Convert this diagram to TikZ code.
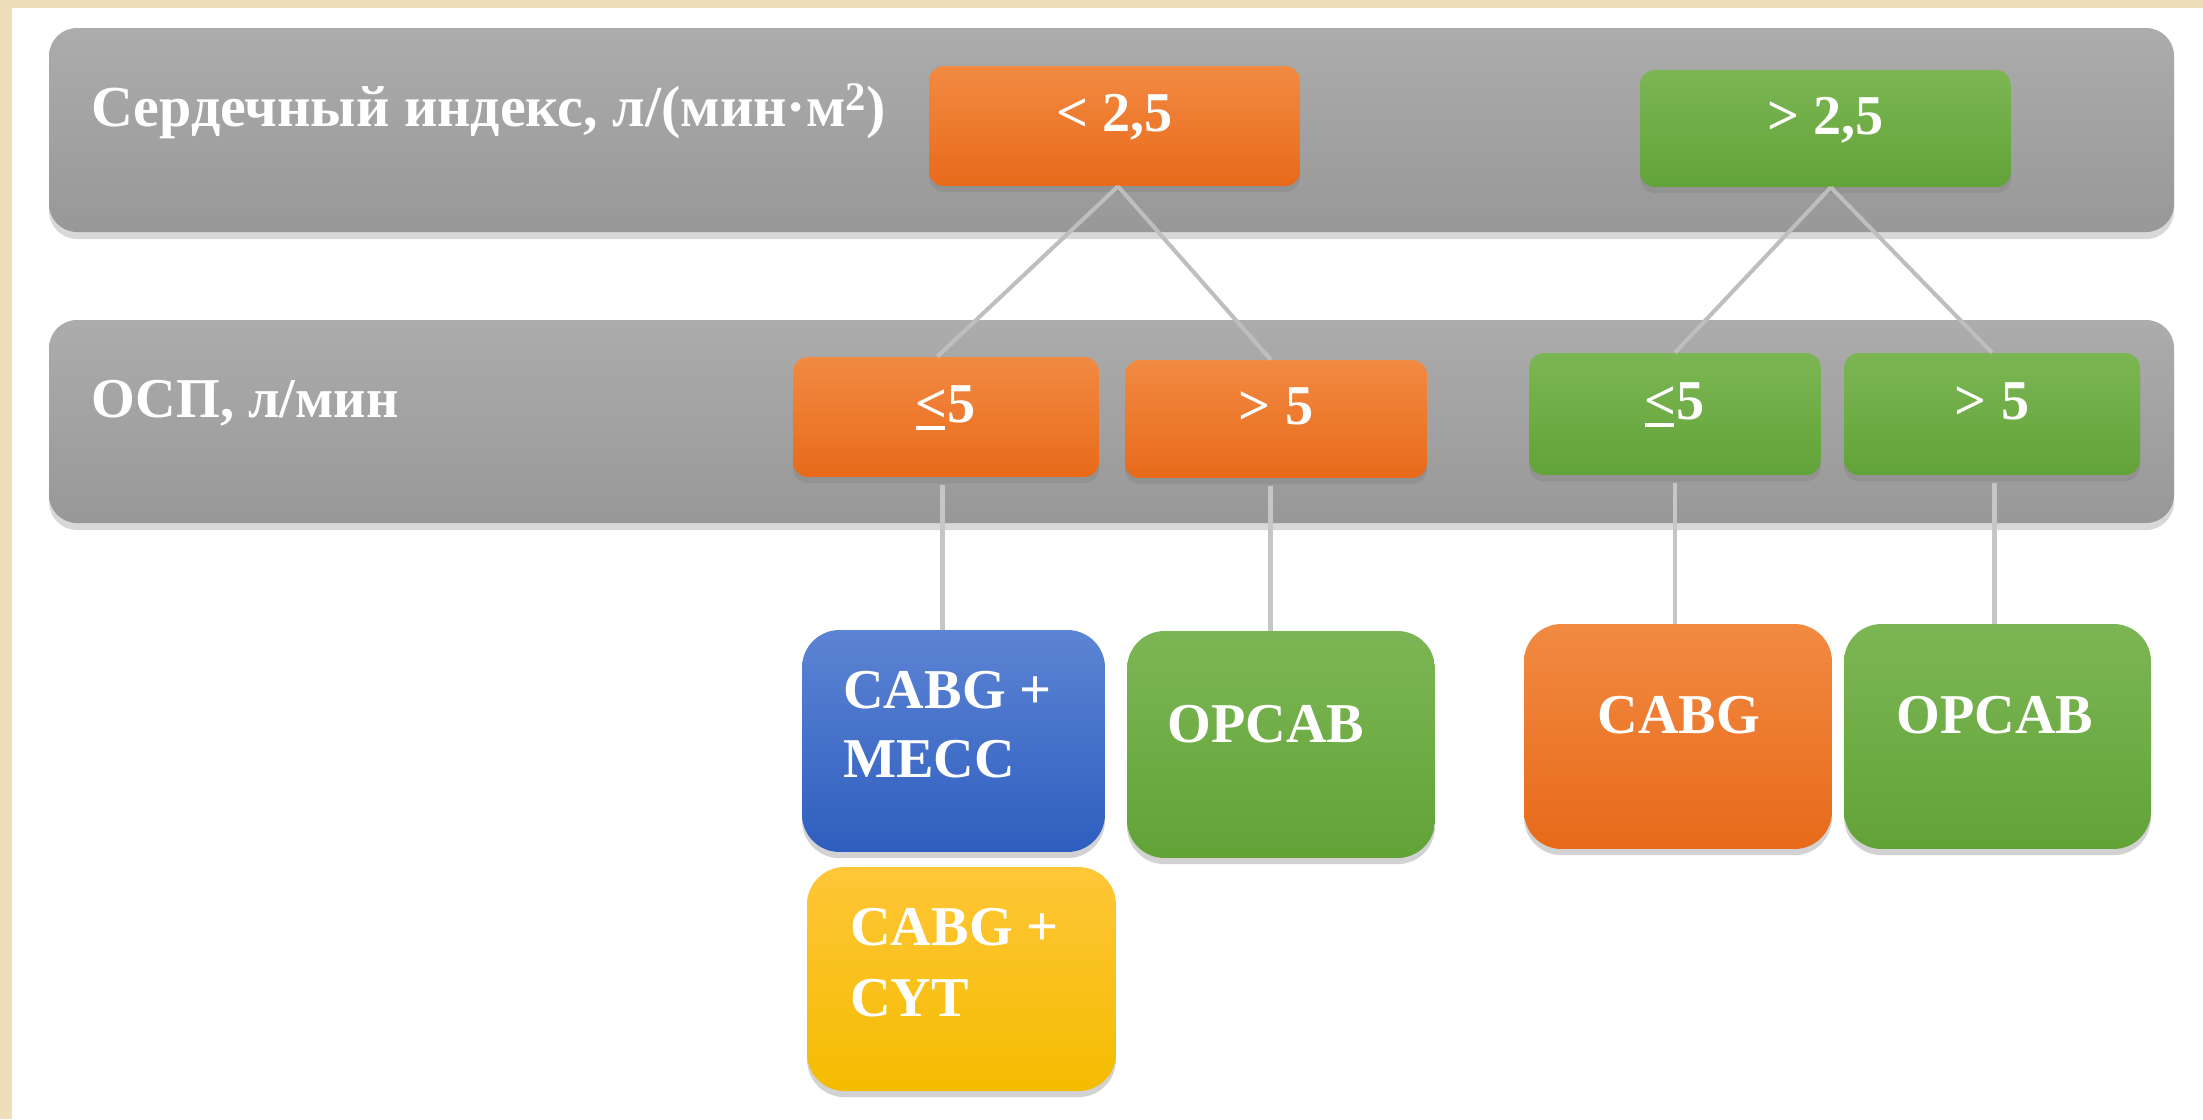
\documentclass[tikz,border=0pt]{standalone}
\usepackage{fontspec}
\setmainfont{Liberation Serif}
\usetikzlibrary{shadows}
\definecolor{beige}{RGB}{239,222,186}
\definecolor{bandT}{RGB}{172,172,172}
\definecolor{bandB}{RGB}{152,152,152}
\definecolor{orT}{RGB}{242,138,66}
\definecolor{orB}{RGB}{232,106,26}
\definecolor{grT}{RGB}{124,182,84}
\definecolor{grB}{RGB}{98,163,56}
\definecolor{blT}{RGB}{92,132,212}
\definecolor{blB}{RGB}{46,94,190}
\definecolor{yeT}{RGB}{255,198,56}
\definecolor{yeB}{RGB}{244,188,0}
\definecolor{lnD}{RGB}{190,190,190}
\definecolor{lnV}{RGB}{198,198,198}
\newcommand{\lesign}{\makebox[0pt][l]{\rule[-0.13em]{0.52em}{0.07em}}<}
\tikzset{
  bandbox/.style={rounded corners=0.56cm, top color=bandT, bottom color=bandB,
    drop shadow={opacity=0.3, shadow xshift=0pt, shadow yshift=-4pt}},
  box/.style={rectangle, rounded corners=0.3cm, inner sep=0pt, text=white,
    font=\bfseries\fontsize{32}{38}\selectfont, text height=0.66em, text depth=0pt,
    drop shadow={opacity=0.35, shadow xshift=0pt, shadow yshift=-3.5pt}},
  resbox/.style={box, rounded corners=0.75cm},
  orbox/.style={top color=orT, bottom color=orB},
  grbox/.style={top color=grT, bottom color=grB},
  blbox/.style={top color=blT, bottom color=blB},
  yebox/.style={top color=yeT, bottom color=yeB},
  txt/.style={inner sep=0pt, text=white, font=\bfseries\fontsize{32}{38}\selectfont},
  diag/.style={draw=lnD, line width=2.3pt},
  vert/.style={draw=lnV, line width=2.8pt, shorten <=0.16cm},
}
\begin{document}
\begin{tikzpicture}[x=0.02cm,y=-0.02cm]
\useasboundingbox (0,0) rectangle (2203,1119);
\fill[white] (0,0) rectangle (2203,1119);
\fill[beige] (0,0) rectangle (2203,8);
\fill[beige] (0,0) rectangle (12,1119);

% bands
\path[bandbox] (49,28) rectangle (2174,232);
\path[bandbox] (49,320) rectangle (2174,523);
\node[txt, anchor=base west, font=\bfseries\fontsize{33}{38}\selectfont] (lab1) at (91,126) {Сердечный индекс, л/(мин·м\textsuperscript{2})};
\node[txt, anchor=base west] (lab2) at (91,417) {ОСП, л/мин};

% level 1
\node[box, orbox, minimum width=7.42cm, minimum height=2.4cm] (lt) at (1114.5,126) {< 2,5};
\node[box, grbox, minimum width=7.42cm, minimum height=2.34cm] (gt) at (1825.5,128.5) {> 2,5};

% level 2
\node[box, orbox, minimum width=6.12cm, minimum height=2.4cm] (ol) at (946,417) {\lesign5};
\node[box, orbox, minimum width=6.04cm, minimum height=2.36cm] (og) at (1276,419) {> 5};
\node[box, grbox, minimum width=5.84cm, minimum height=2.44cm] (gl) at (1675,414) {\lesign5};
\node[box, grbox, minimum width=5.92cm, minimum height=2.44cm] (gg) at (1992,414) {> 5};

% results
\node[resbox, blbox, minimum width=6.06cm, minimum height=4.44cm] (r1) at (953.5,741) {};
\node[resbox, grbox, minimum width=6.16cm, minimum height=4.54cm] (r2) at (1281,744.5) {};
\node[resbox, yebox, minimum width=6.18cm, minimum height=4.48cm] (r3) at (961.5,979) {};
\node[resbox, orbox, minimum width=6.16cm, minimum height=4.5cm] (r4) at (1678,736.5) {};
\node[resbox, grbox, minimum width=6.14cm, minimum height=4.5cm] (r5) at (1997.5,736.5) {};

\node[txt, anchor=base west] (t1a) at (843,708) {CABG +};
\node[txt, anchor=base west] (t1b) at (843,777) {MECC};
\node[txt, anchor=base] (t2) at (1266,742) {OPCAB};
\node[txt, anchor=base west] (t3a) at (850,945) {CABG +};
\node[txt, anchor=base west] (t3b) at (850,1016) {CYT};
\node[txt, anchor=base] (t4) at (1679,733) {CABG};
\node[txt, anchor=base] (t5) at (1995,733) {OPCAB};

% connectors
\draw[diag] ([xshift=2pt]lt.south) -- ([xshift=-5pt]ol.north);
\draw[diag] ([xshift=2pt]lt.south) -- ([xshift=-3pt]og.north);
\draw[diag] ([xshift=3pt]gt.south) -- (gl.north);
\draw[diag] ([xshift=3pt]gt.south) -- (gg.north);
\draw[vert] ([xshift=-2pt]ol.south) -- ([xshift=-2pt]ol.south |- r1.north);
\draw[vert] ([xshift=-3pt]og.south) -- ([xshift=-3pt]og.south |- r2.north);
\draw[vert] (gl.south) -- (gl.south |- r4.north);
\draw[vert] ([xshift=1.5pt]gg.south) -- ([xshift=1.5pt]gg.south |- r5.north);
\end{tikzpicture}
\end{document}
